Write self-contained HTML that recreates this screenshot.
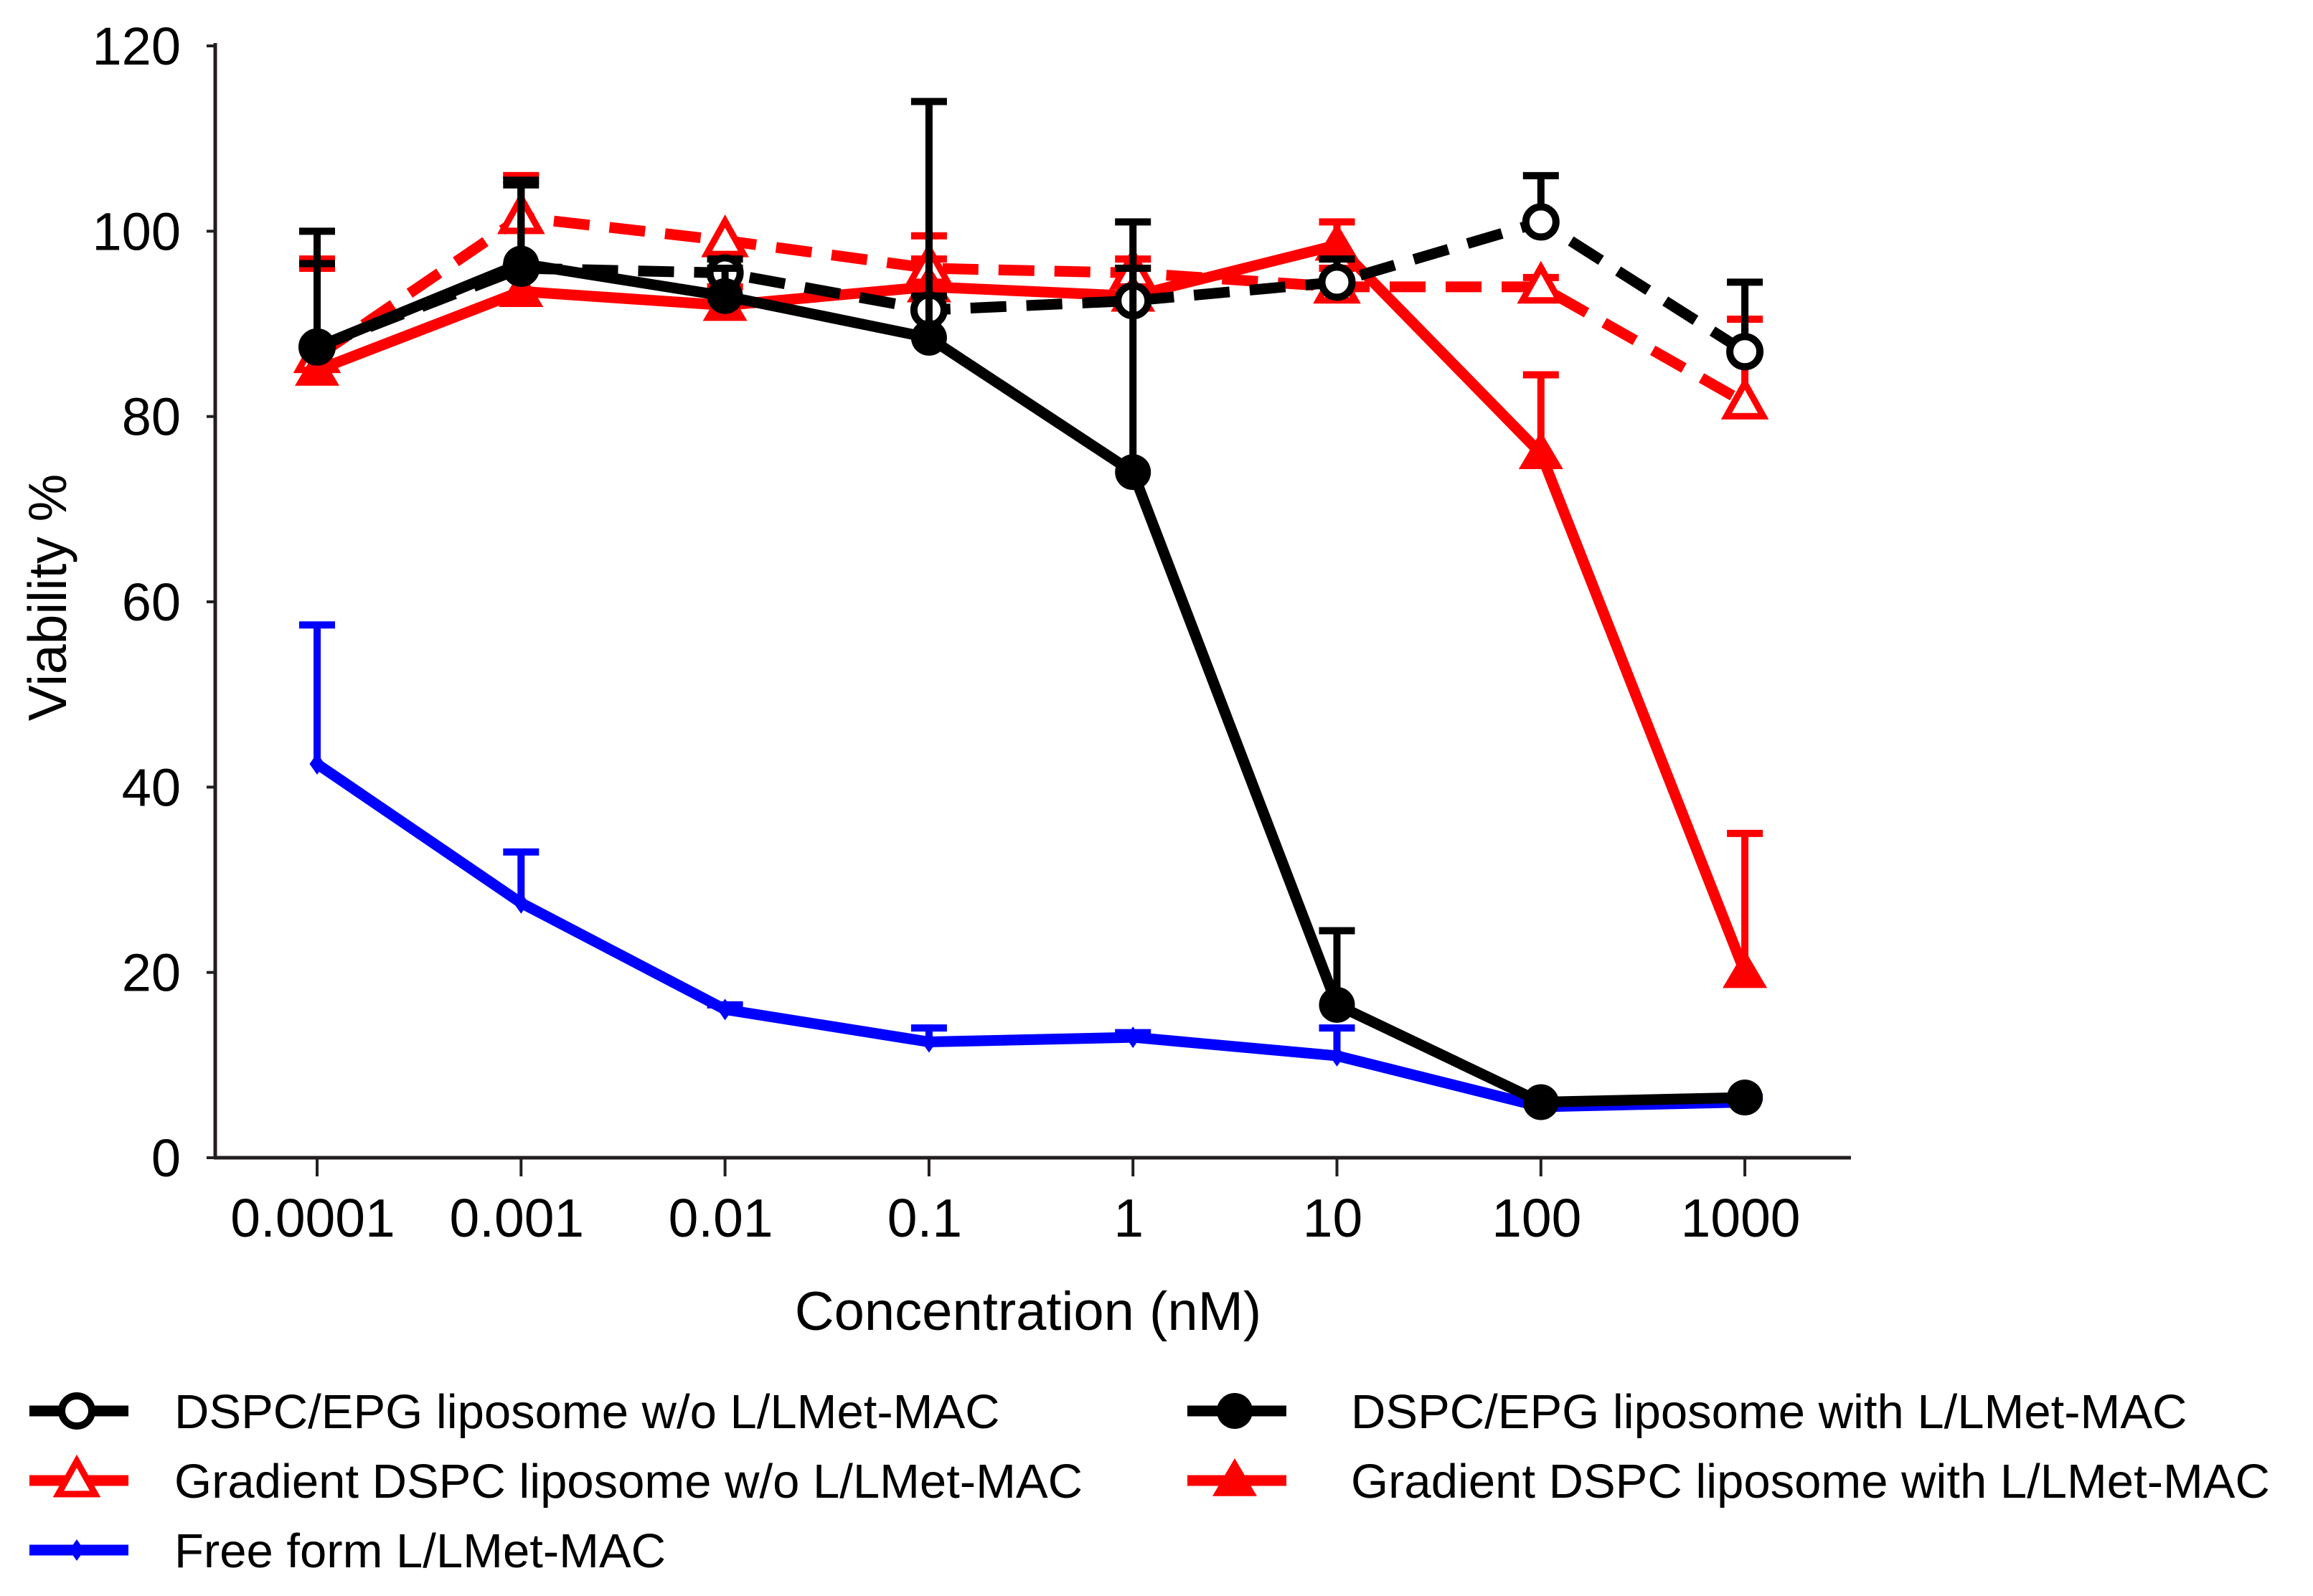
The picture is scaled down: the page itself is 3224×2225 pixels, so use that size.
<!DOCTYPE html>
<html><head><meta charset="utf-8"><style>
html,body{margin:0;padding:0;background:#fff}
svg{display:block;font-family:"Liberation Sans",sans-serif}
</style></head><body>
<svg id="chart" width="3224" height="2225" viewBox="0 0 3224 2225" xmlns="http://www.w3.org/2000/svg"></svg>
<script>
const categories = ["0.0001","0.001","0.01","0.1","1","10","100","1000"];
const yTicks = [0,20,40,60,80,100,120];
const openBlack = [87.5,96,95.5,91.5,92.5,94.5,101,87];
const openBlackErr = [100,105.5,97,93,96,97,106,94.5];
const filledBlack = [87.5,96.5,93,88.5,74,16.5,6,6.5];
const filledBlackErr = [96.5,105,96,114,101,24.5,6,6.5];
const openRed = [86.5,101.5,99,96,95.5,94,94,81.5];
const openRedErr = [97,106,98,99.5,97,96,95,90.5];
const filledRed = [85,93.5,92,94,93,98.5,76,20];
const filledRedErr = [96,106,94,97,96,101,84.5,35];
const blueFree = [42.5,27.5,16,12.5,13,11,5.5,6];
const blueFreeErr = [57.5,33,16.5,14,13.5,14,6,6.5];

const NS="http://www.w3.org/2000/svg";
const svg=document.getElementById('chart');
const X0=442, DX=284.3, Y0=1614, YTOP=64;
const xs=i=>X0+i*DX;
const ys=v=>Y0-(v/120)*(Y0-YTOP);
function mk(tag,attrs,parent){const e=document.createElementNS(NS,tag);for(const k in attrs)e.setAttribute(k,attrs[k]);(parent||svg).appendChild(e);return e;}

const ax=mk('g',{});


const yl=mk('line',{x1:300,y1:YTOP-4,x2:300,y2:Y0+2,stroke:'#231f20','stroke-width':5},ax);


const xl=mk('line',{x1:298,y1:Y0,x2:2580,y2:Y0,stroke:'#231f20','stroke-width':5},ax);


yTicks.forEach(v=>{
  const t=mk('line',{x1:288,y1:ys(v),x2:300,y2:ys(v),stroke:'#231f20','stroke-width':4},ax);
  
  
  const l=mk('text',{x:252,y:ys(v)+26,'text-anchor':'end','font-size':74,fill:'#000'},ax);
  
  
  l.textContent=v;
});
categories.forEach((c,i)=>{
  const t=mk('line',{x1:xs(i),y1:Y0,x2:xs(i),y2:Y0+26,stroke:'#231f20','stroke-width':4},ax);
  
  
  const l=mk('text',{x:xs(i)-6,y:1724,'text-anchor':'middle','font-size':75,fill:'#000'},ax);
  
  
  l.textContent=c;
});
const xt=mk('text',{x:1433,y:1854,'text-anchor':'middle','font-size':76,fill:'#000'});


xt.textContent='Concentration (nM)';
const yt=mk('text',{x:0,y:0,'text-anchor':'middle','font-size':75,fill:'#000',transform:'translate(92,833) rotate(-90)'});


yt.textContent='Viability %';

function marker(g,type,color,x,y,s){
  let e;
  if(type==='openCircle'){e=mk('circle',{cx:x,cy:y,r:21*s,fill:'#fff',stroke:color,'stroke-width':10*s},g);}
  else if(type==='circle'){e=mk('circle',{cx:x,cy:y,r:25*s,fill:color},g);}
  else if(type==='openTri'){const r=27*s;e=mk('polygon',{points:`${x},${y-r} ${x+r*0.95},${y+r*0.7} ${x-r*0.95},${y+r*0.7}`,fill:'#fff',stroke:color,'stroke-width':9*s},g);}
  else if(type==='tri'){const r=31*s;e=mk('polygon',{points:`${x},${y-r} ${x+r},${y+r*0.7} ${x-r},${y+r*0.7}`,fill:color},g);}
  else {const r=15*s;e=mk('polygon',{points:`${x},${y-r} ${x+r*0.7},${y} ${x},${y+r} ${x-r*0.7},${y}`,fill:color},g);}
  return e;
}
function series(name,vals,errs,color,dash,type){
  const g=mk('g',{});
  
  
  vals.forEach((v,i)=>{
    if(errs[i]>v+0.3){
      const e=mk('path',{d:`M${xs(i)},${ys(v)} V${ys(errs[i])} M${xs(i)-25},${ys(errs[i])} H${xs(i)+25}`,stroke:color,'stroke-width':10,fill:'none'},g);
      
      
    }
  });
  const p=mk('polyline',{points:vals.map((v,i)=>xs(i)+','+ys(v)).join(' '),fill:'none',stroke:color,'stroke-width':15,'stroke-linejoin':'round','stroke-dasharray':dash?'50 28':'none'},g);
  
  
  vals.forEach((v,i)=>{
    const m=marker(g,type,color,xs(i),ys(v),1);
    
    
  });
}
series('series-free-form',blueFree,blueFreeErr,'#0000ff',false,'diamond');
series('series-gradient-wo',openRed,openRedErr,'#ff0000',true,'openTri');
series('series-gradient-with',filledRed,filledRedErr,'#ff0000',false,'tri');
series('series-dspc-epg-wo',openBlack,openBlackErr,'#000',true,'openCircle');
series('series-dspc-epg-with',filledBlack,filledBlackErr,'#000',false,'circle');

const legend=[
  ['DSPC/EPG liposome w/o L/LMet-MAC','#000','openCircle',41,1967,243],
  ['DSPC/EPG liposome with L/LMet-MAC','#000','circle',1655,1967,1883],
  ['Gradient DSPC liposome w/o L/LMet-MAC','#ff0000','openTri',41,2064,243],
  ['Gradient DSPC liposome with L/LMet-MAC','#ff0000','tri',1655,2064,1883],
  ['Free form L/LMet-MAC','#0000ff','diamond',41,2161,243]
];
legend.forEach(([t,c,type,x,y,tx0])=>{
  const g=mk('g',{});
  
  
  mk('line',{x1:x,y1:y,x2:x+138,y2:y,stroke:c,'stroke-width':15},g);
  marker(g,type,c,x+66,y,1);
  const tx=mk('text',{x:tx0,y:y+24,'font-size':67,fill:'#000'},g);
  
  
  tx.textContent=t;
});
</script>
</body></html>
